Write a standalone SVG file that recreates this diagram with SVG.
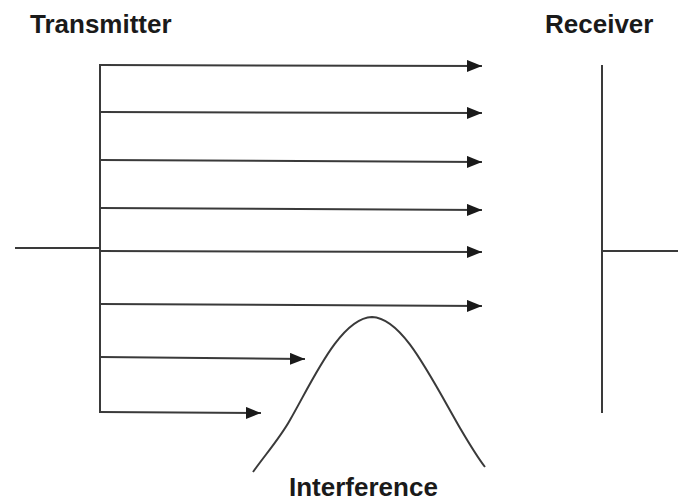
<svg xmlns="http://www.w3.org/2000/svg" width="678" height="503" viewBox="0 0 678 503">
<style>
.ln{stroke:#3a3a3a;stroke-width:2;fill:none}
.lbl{font-family:"Liberation Sans",Arial,sans-serif;font-weight:bold;font-size:26px;fill:#1a1a1a}
</style>
<defs>
<marker id="ah" markerWidth="15" markerHeight="12" refX="15" refY="6" orient="auto" markerUnits="userSpaceOnUse">
<path d="M0,0 L15,6 L0,12 Z" fill="#1a1a1a"/>
</marker>
</defs>
<rect width="678" height="503" fill="#fff"/>
<g id="transmitter">
<text class="lbl" x="30" y="33">Transmitter</text>
<line class="ln" x1="100" y1="64" x2="100" y2="413"/>
<line class="ln" x1="15" y1="248" x2="100" y2="248"/>
</g>
<g id="receiver">
<text class="lbl" x="545" y="33">Receiver</text>
<line class="ln" x1="602" y1="65" x2="602" y2="413"/>
<line class="ln" x1="602" y1="251" x2="678" y2="251"/>
</g>
<g id="interference">
<path class="ln" d="M253,472 C265,455 280,438 290,420 C312,382 340,318 372,317 C402,318 428,372 460,428 C470,445 478,458 485,467"/>
<text class="lbl" x="289" y="496">Interference</text>
</g>
<g id="connectors">
<line class="ln" x1="100" y1="65" x2="482" y2="66" marker-end="url(#ah)"/>
<line class="ln" x1="100" y1="112" x2="482" y2="113" marker-end="url(#ah)"/>
<line class="ln" x1="100" y1="160" x2="482" y2="162" marker-end="url(#ah)"/>
<line class="ln" x1="100" y1="208" x2="482" y2="210" marker-end="url(#ah)"/>
<line class="ln" x1="100" y1="251" x2="482" y2="252" marker-end="url(#ah)"/>
<line class="ln" x1="100" y1="304" x2="482" y2="306" marker-end="url(#ah)"/>
<line class="ln" x1="100" y1="357" x2="305" y2="359" marker-end="url(#ah)"/>
<line class="ln" x1="100" y1="412" x2="261" y2="413" marker-end="url(#ah)"/>
</g>
</svg>
